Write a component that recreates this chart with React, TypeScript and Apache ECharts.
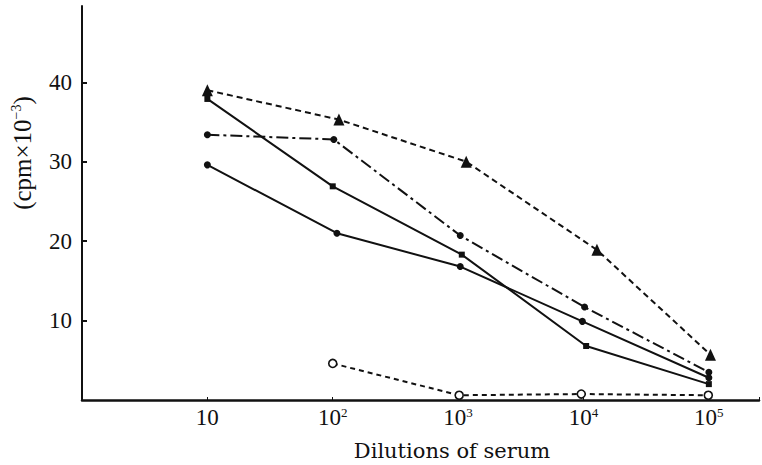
import React, { useEffect, useRef } from "react";
import * as echarts from "echarts";

// Y axis labelled ticks
const yTicks = [10, 20, 30, 40];
// X axis decades
const xDecades = [10, 100, 1000, 10000, 100000];

// Series: filled triangles, dashed
const triangleX = [10, 112, 1160, 12800, 103000];
const triangleY = [39.0, 35.3, 30.0, 18.9, 5.7];
// Series: filled squares, solid
const squareX = [10, 100, 1070, 10500, 100000];
const squareY = [37.9, 26.9, 18.3, 6.8, 2.0];
// Series: filled circles, dash-dot
const dashDotX = [10, 102, 1040, 10200, 100000];
const dashDotY = [33.4, 32.8, 20.7, 11.7, 3.5];
// Series: filled circles, solid
const solidCircleX = [10, 108, 1040, 9800, 100000];
const solidCircleY = [29.6, 21.0, 16.8, 9.9, 2.8];
// Series: open circles, dashed
const openCircleX = [100, 1020, 9600, 99000];
const openCircleY = [4.6, 0.6, 0.75, 0.6];

const pairs = (xs: number[], ys: number[]) => xs.map((x, i) => [x, ys[i]]);

const INK = "#111";
const SERIF = "'Liberation Serif', 'DejaVu Serif', serif";

export default function App() {
  const ref = useRef<HTMLDivElement>(null);
  useEffect(() => {
    if (!ref.current) return;
    const chart = echarts.init(ref.current, null, { renderer: "svg" });
    const base = {
      type: "line",
      color: INK,
      showSymbol: true,
      z: 3,
    };
    chart.setOption({
      animation: false,
      backgroundColor: "#fff",
      grid: { left: 82, right: 0, top: 6, bottom: 65, containLabel: false },
      xAxis: {
        type: "log",
        logBase: 10,
        min: 1,
        max: Math.pow(10, 5.4),
        axisLine: { show: true, lineStyle: { color: INK, width: 2.5 } },
        axisTick: { show: true, inside: true, length: 3, lineStyle: { color: INK, width: 1 } },
        splitLine: { show: false },
        axisLabel: {
          margin: 6,
          color: INK,
          fontFamily: SERIF,
          fontSize: 23,
          showMinLabel: true,
          showMaxLabel: true,
          formatter: (v: number) => {
            const n = Math.round(Math.log10(v));
            if (Math.abs(Math.log10(v) - n) > 1e-6) return "";
            const match = xDecades.find((d) => Math.round(Math.log10(d)) === n);
            if (match === undefined) return "";
            if (n === 1) return "10";
            return "10{s|" + n + "}";
          },
          rich: {
            s: { fontSize: 13, fontFamily: SERIF, color: INK, verticalAlign: "top", padding: [0, 0, 10, 0] },
          },
        },
      },
      yAxis: {
        type: "value",
        min: 0,
        max: 49.6,
        axisLine: { show: true, lineStyle: { color: INK, width: 2 } },
        axisTick: {
          show: true,
          inside: true,
          length: 5,
          customValues: yTicks,
          lineStyle: { color: INK, width: 2 },
        },
        splitLine: { show: false },
        axisLabel: {
          customValues: yTicks,
          margin: 10,
          color: INK,
          fontFamily: SERIF,
          fontSize: 23,
        },
      },
      graphic: [
        {
          type: "text",
          x: 22,
          y: 153,
          rotation: Math.PI / 2,
          style: {
            text: "(cpm×10{s|−3})",
            fill: INK,
            font: "25px " + SERIF,
            align: "center",
            verticalAlign: "middle",
            rich: {
              s: { fontSize: 14, fontFamily: SERIF, fill: INK, verticalAlign: "top", padding: [0, 0, 11, 0] },
            },
          },
        },
        {
          type: "text",
          x: 452,
          y: 451,
          style: {
            text: "Dilutions of serum",
            fill: INK,
            font: "21px 'DejaVu Serif', serif",
            align: "center",
            verticalAlign: "middle",
          },
        },
      ],
      series: [
        {
          ...base,
          name: "triangle",
          data: pairs(triangleX, triangleY),
          symbol: "triangle",
          symbolSize: [11, 12],
          itemStyle: { color: INK },
          lineStyle: { color: INK, width: 2, type: [6, 4] },
        },
        {
          ...base,
          name: "square",
          data: pairs(squareX, squareY),
          symbol: "rect",
          symbolSize: 6,
          itemStyle: { color: INK },
          lineStyle: { color: INK, width: 2, type: "solid" },
        },
        {
          ...base,
          name: "dashdot",
          data: pairs(dashDotX, dashDotY),
          symbol: "circle",
          symbolSize: 7,
          itemStyle: { color: INK },
          lineStyle: { color: INK, width: 2, type: [12, 4, 3, 4] },
        },
        {
          ...base,
          name: "solidCircle",
          data: pairs(solidCircleX, solidCircleY),
          symbol: "circle",
          symbolSize: 7,
          itemStyle: { color: INK },
          lineStyle: { color: INK, width: 2, type: "solid" },
        },
        {
          ...base,
          name: "openCircle",
          data: pairs(openCircleX, openCircleY),
          symbol: "circle",
          symbolSize: 8,
          itemStyle: { color: "#fff", borderColor: INK, borderWidth: 1.6 },
          lineStyle: { color: INK, width: 2, type: [5, 4] },
        },
      ],
    });
    return () => chart.dispose();
  }, []);
  return <div ref={ref} style={{ width: 762, height: 465, position: "absolute", left: 0, top: 0 }} />;
}
